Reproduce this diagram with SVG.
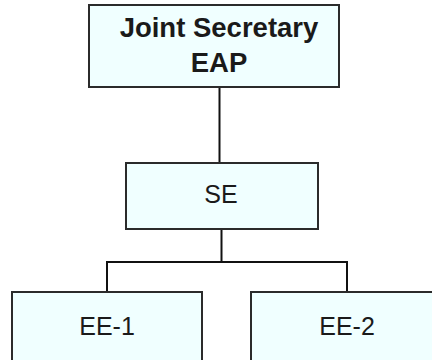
<svg xmlns="http://www.w3.org/2000/svg" width="432" height="360" viewBox="0 0 432 360">
<style>
.box{fill:#F0FFFF;stroke:#2b2b2b;stroke-width:2}
.t{font-family:"Liberation Sans",Arial,sans-serif;font-size:25px;fill:#1a1a1a;text-anchor:middle}
.b{font-weight:bold;font-size:27.5px}
.c{stroke:#111;stroke-width:2;fill:none}
</style>
<rect width="432" height="360" fill="#ffffff"/>
<g id="connectors">
<line class="c" x1="219.5" y1="87" x2="219.5" y2="163"/>
<line class="c" x1="221.5" y1="229" x2="221.5" y2="262"/>
<polyline class="c" points="107,292 107,262 347,262 347,292"/>
</g>
<g id="joint-secretary">
<rect class="box" x="89" y="5" width="250" height="82"/>
<text class="t b" x="219" y="37">Joint Secretary</text>
<text class="t b" x="219" y="72">EAP</text>
</g>
<g id="se">
<rect class="box" x="126" y="163" width="192" height="66"/>
<text class="t" x="221" y="203">SE</text>
</g>
<g id="ee1">
<rect class="box" x="12" y="292" width="190" height="80"/>
<text class="t" x="107" y="335">EE-1</text>
</g>
<g id="ee2">
<rect class="box" x="251" y="292" width="192" height="80"/>
<text class="t" x="347" y="335">EE-2</text>
</g>
</svg>
